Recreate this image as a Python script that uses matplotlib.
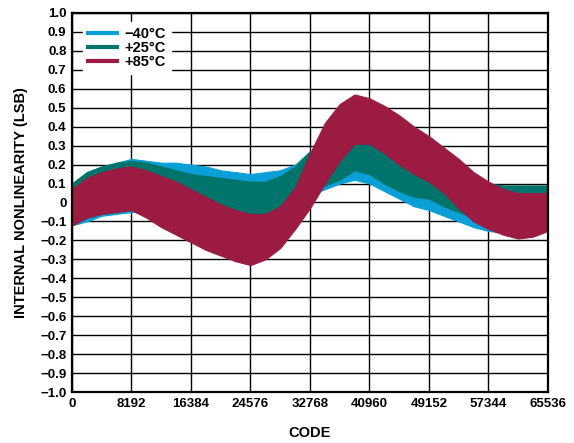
import numpy as np
import matplotlib
matplotlib.use("Agg")
from matplotlib import pyplot as plt

# code positions where the band edges were read (every 2048 codes)
codes = np.arange(0, 65537, 2048)

# -40C band
blue_hi = [0.10, 0.16, 0.19, 0.21, 0.23, 0.22, 0.21, 0.21, 0.20, 0.19, 0.17,
           0.16, 0.15, 0.16, 0.17, 0.20, 0.27, 0.25, 0.22, 0.21, 0.19, 0.16,
           0.12, 0.08, 0.05, 0.03, 0.02, 0.02, 0.03, 0.04, 0.06, 0.07, 0.08]
blue_lo = [-0.12, -0.10, -0.07, -0.06, -0.05, -0.05, -0.05, -0.05, -0.05,
           -0.05, -0.06, -0.06, -0.06, -0.06, -0.05, -0.01, 0.04, 0.07, 0.10,
           0.12, 0.10, 0.06, 0.02, -0.02, -0.04, -0.07, -0.10, -0.13, -0.15,
           -0.16, -0.16, -0.14, -0.11]

# +25C band
green_hi = [0.10, 0.16, 0.19, 0.21, 0.22, 0.21, 0.19, 0.17, 0.15, 0.14, 0.13,
            0.12, 0.11, 0.11, 0.14, 0.19, 0.27, 0.29, 0.30, 0.32, 0.31, 0.28,
            0.24, 0.20, 0.17, 0.14, 0.12, 0.11, 0.10, 0.09, 0.09, 0.09, 0.09]
green_lo = [-0.12, -0.08, -0.06, -0.05, -0.04, -0.05, -0.06, -0.07, -0.07,
            -0.08, -0.09, -0.09, -0.09, -0.09, -0.07, -0.02, 0.05, 0.09, 0.12,
            0.17, 0.15, 0.10, 0.06, 0.03, 0.02, -0.02, -0.05, -0.08, -0.10,
            -0.11, -0.12, -0.12, -0.10]

# +85C band
red_hi = [0.07, 0.13, 0.16, 0.18, 0.19, 0.17, 0.14, 0.11, 0.07, 0.03, -0.01,
          -0.04, -0.06, -0.06, -0.02, 0.08, 0.26, 0.42, 0.52, 0.57, 0.55, 0.51,
          0.46, 0.40, 0.35, 0.29, 0.23, 0.16, 0.11, 0.07, 0.05, 0.05, 0.05]
red_lo = [-0.12, -0.08, -0.06, -0.05, -0.04, -0.08, -0.13, -0.17, -0.21,
          -0.25, -0.28, -0.31, -0.33, -0.30, -0.24, -0.14, -0.03, 0.10, 0.22,
          0.31, 0.31, 0.26, 0.20, 0.15, 0.11, 0.05, -0.03, -0.10, -0.14, -0.17,
          -0.19, -0.18, -0.15]

labels = ["\u221240\u00b0C", "+25\u00b0C", "+85\u00b0C"]
colors = ["#0a9fd6", "#00746a", "#9b1b42"]

x_ticks = [0, 8192, 16384, 24576, 32768, 40960, 49152, 57344, 65536]
y_ticks = np.round(np.arange(-1.0, 1.01, 0.1), 1)


def ylab(v):
    if v == 0:
        return "0"
    s = f"{abs(v):.1f}"
    return ("\u2212" + s) if v < 0 else s


plt.rcParams["font.family"] = ["Liberation Sans", "DejaVu Sans"]
plt.rcParams["font.weight"] = "bold"

fig = plt.figure(figsize=(5.74, 4.43), dpi=100)
ax = fig.add_axes([0.1254, 0.1151, 0.8293, 0.8556])

bands = [(blue_lo, blue_hi), (green_lo, green_hi), (red_lo, red_hi)]
for (lo, hi), lab, col in zip(bands, labels, colors):
    ax.fill_between(codes, lo, hi, color=col, linewidth=0.8, edgecolor=col, zorder=3)
    ax.plot([], [], color=col, linewidth=3, label=lab)

ax.set_xlim(0, 65536)
ax.set_ylim(-1.0, 1.0)
ax.set_xticks(x_ticks)
ax.set_xticklabels([str(t) for t in x_ticks], fontsize=9.5, fontweight="bold")
ax.set_yticks(y_ticks)
ax.set_yticklabels([ylab(v) for v in y_ticks], fontsize=9.5, fontweight="bold")
ax.tick_params(length=0, pad=4)
ax.grid(True, color="black", linewidth=1.0, zorder=1)
ax.set_axisbelow(True)
for s in ax.spines.values():
    s.set_linewidth(1.6)
    s.set_zorder(5)

ax.set_xlabel("CODE", fontsize=10.5, fontweight="bold", labelpad=12)
ax.set_ylabel("INTERNAL NONLINEARITY (LSB)", fontsize=10.5, fontweight="bold", labelpad=9)

leg = ax.legend(loc="upper left", bbox_to_anchor=(0.008, 0.995), frameon=True,
                fancybox=False, edgecolor="white", framealpha=1.0,
                fontsize=10.5, handlelength=2.0, handletextpad=0.5,
                labelspacing=0.0, borderpad=0.35)
leg.set_zorder(10)

fig.savefig("out.png", dpi=100)
